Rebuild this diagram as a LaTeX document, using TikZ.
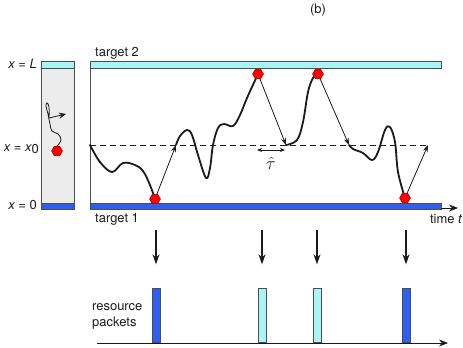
\documentclass[tikz,border=0pt]{standalone}
\usepackage{fontspec}
\setmainfont{TeX Gyre Heros}
\usepackage{xcolor}
\definecolor{tLight}{HTML}{A8F4F6}
\definecolor{tBlue}{HTML}{2E5FF0}
\definecolor{tGray}{HTML}{ECECEC}
\definecolor{tEdge}{HTML}{4D4D4D}
\definecolor{tDark}{HTML}{1A1A19}
\usepackage{tikz}
\usetikzlibrary{positioning,arrows.meta,calc,shapes.geometric}
\tikzset{
 lbl/.style={font=\fontsize{13}{16}\selectfont, text=tDark, inner sep=0pt},
 walk/.style={line width=1.8bp, line join=round, line cap=round, tDark},
 jump/.style={-{Stealth[length=7bp,width=5bp]}, line width=0.8bp, tDark},
 hit/.style={regular polygon, regular polygon sides=6, fill=red, draw=red!55!black, minimum size=11bp, inner sep=0pt, line width=0.4bp},
 bar/.style={draw=tEdge, line width=0.7bp},
}
\newcommand{\packet}[3]{%
 \node[draw=tEdge, fill=#3, line width=0.7bp, minimum width=8bp, minimum height=54bp, inner sep=0pt, anchor=south] (#2) at (#1,343) {};%
 \draw[-{Stealth[length=10bp,width=7bp]}, line width=1.3bp, tDark, shorten >=24bp] (#1,230) -- (#2.north);}

\begin{document}
\begin{tikzpicture}[x=1bp,y=-1bp]
\useasboundingbox (0,0) rectangle (463,347);
\node[lbl] (panel) at (318,10) {(b)};
\filldraw[bar, fill=tGray] (41,61) rectangle (74,209);
\filldraw[bar, fill=tLight] (41,61) rectangle (74,68);
\filldraw[bar, fill=tBlue] (41,203) rectangle (74,209);
\node[lbl, anchor=east] (xL) at (37,64) {\itshape x \upshape = \itshape L};
\node[lbl, anchor=east] (x0) at (39,149) {\itshape x \upshape = \itshape x\upshape\raisebox{-0.35ex}{0}};
\node[lbl, anchor=east] (xz) at (37,205) {\itshape x \upshape = 0};
\node[hit] (d0) at (57,151) {};
\draw[line width=0.8bp, tDark] plot[smooth, tension=0.7] coordinates {(d0.north) (61,140) (58,134) (52,131) (50,124) (48,114) (46,106) (47,103) (49,107) (49,118)};
\coordinate (s0) at (49,118);
\coordinate (s1) at (66,114);
\draw[-{Stealth[length=7bp,width=6bp]}, line width=0.8bp, tDark] (s0) -- (s1);
\draw[bar] (90,61) -- (90,209);
\filldraw[bar, fill=tLight] (90,61) rectangle (441,68);
\filldraw[bar, fill=tBlue] (90,203) rectangle (441,209);
\coordinate (ax0) at (441,208);
\coordinate (ax1) at (458,208);
\draw[-{Stealth[length=9bp,width=7bp]}, line width=0.8bp, tDark] (ax0) -- (ax1);
\node[lbl, anchor=base west] (tg2) at (95,56) {target 2};
\node[lbl, anchor=base west] (tg1) at (95,222) {target 1};
\node[lbl, anchor=base east] (tm) at (462,223) {time \itshape t};
\draw[dashed, dash pattern=on 6bp off 4bp, line width=0.8bp, tDark] (90,145) -- (430,145);
\coordinate (r1) at (176,145);
\coordinate (r2) at (286,145);
\coordinate (r3) at (349,145);
\coordinate (r4) at (428,145);
\draw[walk] plot[smooth, tension=0.6] coordinates {(90,145) (100,162) (112,172) (123,163) (135,165) (143,171) (150,185) (155,199)};
\draw[walk] plot[smooth, tension=0.6] coordinates {(r1) (180,136) (187,130) (192,135) (198,155) (206,178) (210,168) (213,145) (218,128) (224,124) (233,126) (240,115) (247,98) (258,74)};
\draw[walk] plot[smooth, tension=0.6] coordinates {(r2) (297,140) (303,122) (308,92) (313,78) (318,74)};
\draw[walk] plot[smooth, tension=0.6] coordinates {(r3) (353,149) (363,153) (372,160) (378,152) (385,130) (390,127) (395,142) (398,172) (405,198)};
\node[hit] (d1) at (155,199) {};
\node[hit] (d2) at (258,74) {};
\node[hit] (d3) at (318,74) {};
\node[hit] (d4) at (405,198) {};
\draw[jump] (d1) -- (r1);
\draw[jump] (d2) -- (r2);
\draw[jump] (d3) -- (r3);
\draw[jump] (d4) -- (r4);
\coordinate (ta) at (257,150);
\coordinate (tb) at (285,150);
\draw[{Stealth[length=5bp,width=4bp]}-{Stealth[length=5bp,width=4bp]}, line width=0.7bp, tDark] (ta) -- (tb);
\node[lbl] (tau) at (271,163) {\scalebox{1.5}{$\hat{\tau}$}};
\coordinate (b0) at (97,343);
\coordinate (b1) at (448,343);
\draw[-{Stealth[length=9bp,width=7bp]}, line width=0.8bp, tDark] (b0) -- (b1);
\packet{156}{p1}{tBlue}
\packet{262}{p2}{tLight}
\packet{317}{p3}{tLight}
\packet{406}{p4}{tBlue}
\node[lbl, anchor=west, align=left] (res) at (92,316) {resource\\packets};
\end{tikzpicture}
\end{document}
